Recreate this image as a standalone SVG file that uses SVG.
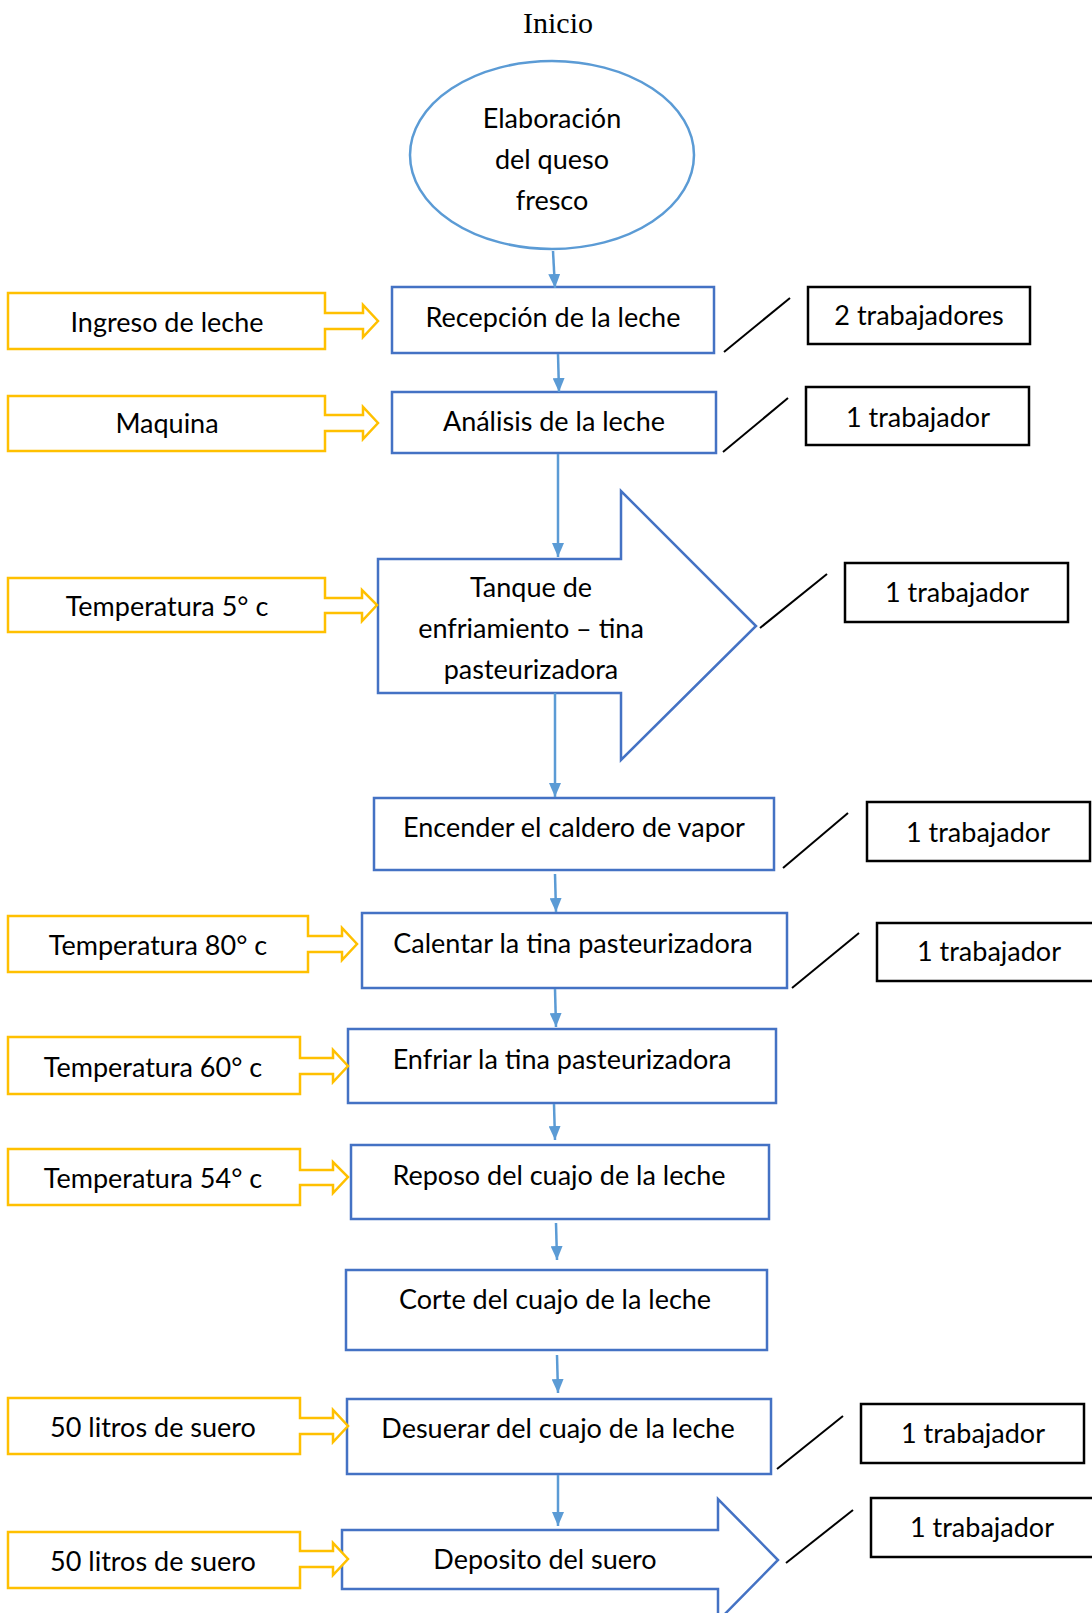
<svg xmlns="http://www.w3.org/2000/svg" width="1092" height="1613" viewBox="0 0 1092 1613">
  <style>
    .lbl { font-family: Lato, "Open Sans", "Liberation Sans", sans-serif; font-size: 27px; fill: #000; text-anchor: middle; }
    .title { font-family: "Liberation Serif", "Times New Roman", serif; font-size: 30px; fill: #000; text-anchor: middle; }
    .step { fill: #fff; stroke: #4472C4; stroke-width: 2.5; }
    .input { fill: #fff; stroke: #FFC000; stroke-width: 2.5; stroke-linejoin: miter; }
    .staff { fill: #fff; stroke: #000; stroke-width: 2.5; }
    .tick { stroke: #000; stroke-width: 2; fill: none; }
    .flow { stroke: #5B9BD5; stroke-width: 2.5; fill: none; marker-end: url(#head); }
  </style>
  <defs>
    <marker id="head" viewBox="0 0 14 12" refX="14" refY="6" markerUnits="userSpaceOnUse" markerWidth="14" markerHeight="12" orient="auto">
      <path d="M0,0 L14,6 L0,12 Z" fill="#5B9BD5"/>
    </marker>
  </defs>
  <rect width="1092" height="1613" fill="#fff"/>

  <text class="title" x="558" y="33">Inicio</text>

  <!-- start ellipse -->
  <g id="start">
    <ellipse cx="552" cy="155" rx="142" ry="94" fill="#fff" stroke="#5B9BD5" stroke-width="2.5"/>
    <text class="lbl" x="552" y="128">Elaboración</text>
    <text class="lbl" x="552" y="169">del queso</text>
    <text class="lbl" x="552" y="210">fresco</text>
  </g>

  <!-- process steps -->
  <g id="recepcion">
    <rect class="step" x="392" y="287" width="322" height="66"/>
    <text class="lbl" x="553" y="327">Recepción de la leche</text>
  </g>
  <g id="analisis">
    <rect class="step" x="392" y="392" width="324" height="61"/>
    <text class="lbl" x="554" y="431">Análisis de la leche</text>
  </g>
  <g id="tanque">
    <path class="step" d="M378,559 H621 V491 L756,626 L621,760 V693 H378 Z"/>
    <text class="lbl" x="531" y="597">Tanque de</text>
    <text class="lbl" x="531" y="638">enfriamiento – tina</text>
    <text class="lbl" x="531" y="679">pasteurizadora</text>
  </g>
  <g id="encender">
    <rect class="step" x="374" y="798" width="400" height="72"/>
    <text class="lbl" x="574" y="837">Encender el caldero de vapor</text>
  </g>
  <g id="calentar">
    <rect class="step" x="362" y="913" width="425" height="75"/>
    <text class="lbl" x="573" y="953">Calentar la tina pasteurizadora</text>
  </g>
  <g id="enfriar">
    <rect class="step" x="348" y="1029" width="428" height="74"/>
    <text class="lbl" x="562" y="1069">Enfriar la tina pasteurizadora</text>
  </g>
  <g id="reposo">
    <rect class="step" x="351" y="1145" width="418" height="74"/>
    <text class="lbl" x="559" y="1185">Reposo del cuajo de la leche</text>
  </g>
  <g id="corte">
    <rect class="step" x="346" y="1270" width="421" height="80"/>
    <text class="lbl" x="555" y="1309">Corte del cuajo de la leche</text>
  </g>
  <g id="desuerar">
    <rect class="step" x="347" y="1399" width="424" height="75"/>
    <text class="lbl" x="558" y="1438">Desuerar del cuajo de la leche</text>
  </g>
  <g id="deposito">
    <path class="step" d="M342,1530 H718 V1499 L778,1560 L718,1621 V1589 H342 Z"/>
    <text class="lbl" x="545" y="1569">Deposito del suero</text>
  </g>

  <!-- inputs (box with arrow) -->
  <g id="in-ingreso">
    <path class="input" d="M8,293 H325 V313 H363 V305 L378,321 L363,337 V329 H325 V349 H8 Z"/>
    <text class="lbl" x="167" y="332">Ingreso de leche</text>
  </g>
  <g id="in-maquina">
    <path class="input" d="M8,396 H325 V415 H363 V407 L378,423 L363,439 V431 H325 V451 H8 Z"/>
    <text class="lbl" x="167" y="433">Maquina</text>
  </g>
  <g id="in-temp5">
    <path class="input" d="M8,578 H325 V598 H362 V590 L377,605 L362,621 V613 H325 V632 H8 Z"/>
    <text class="lbl" x="167" y="616">Temperatura 5° c</text>
  </g>
  <g id="in-temp80">
    <path class="input" d="M8,916 H308 V936 H342 V928 L357,944 L342,960 V952 H308 V972 H8 Z"/>
    <text class="lbl" x="158" y="955">Temperatura 80° c</text>
  </g>
  <g id="in-temp60">
    <path class="input" d="M8,1037 H300 V1058 H333 V1050 L348,1066 L333,1082 V1074 H300 V1094 H8 Z"/>
    <text class="lbl" x="153" y="1077">Temperatura 60° c</text>
  </g>
  <g id="in-temp54">
    <path class="input" d="M8,1149 H300 V1170 H333 V1162 L348,1177 L333,1193 V1185 H300 V1205 H8 Z"/>
    <text class="lbl" x="153" y="1188">Temperatura 54° c</text>
  </g>
  <g id="in-suero1">
    <path class="input" d="M8,1398 H300 V1418 H333 V1410 L348,1426 L333,1442 V1434 H300 V1454 H8 Z"/>
    <text class="lbl" x="153" y="1437">50 litros de suero</text>
  </g>
  <g id="in-suero2">
    <path class="input" d="M8,1532 H300 V1551 H333 V1543 L348,1559 L333,1575 V1567 H300 V1588 H8 Z"/>
    <text class="lbl" x="153" y="1571">50 litros de suero</text>
  </g>

  <!-- staff boxes -->
  <g id="staff-recepcion">
    <rect class="staff" x="808" y="287" width="222" height="57"/>
    <text class="lbl" x="919" y="325">2 trabajadores</text>
  </g>
  <g id="staff-analisis">
    <rect class="staff" x="806" y="387" width="223" height="58"/>
    <text class="lbl" x="918" y="427">1 trabajador</text>
  </g>
  <g id="staff-tanque">
    <rect class="staff" x="845" y="563" width="223" height="59"/>
    <text class="lbl" x="957" y="602">1 trabajador</text>
  </g>
  <g id="staff-encender">
    <rect class="staff" x="867" y="802" width="223" height="59"/>
    <text class="lbl" x="978" y="842">1 trabajador</text>
  </g>
  <g id="staff-calentar">
    <rect class="staff" x="877" y="923" width="225" height="58"/>
    <text class="lbl" x="989" y="961">1 trabajador</text>
  </g>
  <g id="staff-desuerar">
    <rect class="staff" x="861" y="1404" width="223" height="59"/>
    <text class="lbl" x="973" y="1443">1 trabajador</text>
  </g>
  <g id="staff-deposito">
    <rect class="staff" x="871" y="1498" width="230" height="59"/>
    <text class="lbl" x="982" y="1537">1 trabajador</text>
  </g>

  <!-- connectors -->
  <g id="connectors">
    <line class="flow" x1="553" y1="251" x2="555" y2="288"/>
    <line class="flow" x1="558" y1="354" x2="559" y2="392"/>
    <line class="flow" x1="558" y1="454" x2="558" y2="557"/>
    <line class="flow" x1="555" y1="693" x2="555" y2="797"/>
    <line class="flow" x1="555" y1="874" x2="556" y2="912"/>
    <line class="flow" x1="555" y1="989" x2="556" y2="1027"/>
    <line class="flow" x1="554" y1="1104" x2="555" y2="1140"/>
    <line class="flow" x1="556" y1="1223" x2="557" y2="1260"/>
    <line class="flow" x1="557" y1="1355" x2="558" y2="1393"/>
    <line class="flow" x1="558" y1="1475" x2="558" y2="1526"/>

    <line class="tick" x1="724" y1="352" x2="790" y2="298"/>
    <line class="tick" x1="723" y1="452" x2="788" y2="398"/>
    <line class="tick" x1="760" y1="628" x2="827" y2="574"/>
    <line class="tick" x1="783" y1="868" x2="848" y2="813"/>
    <line class="tick" x1="792" y1="988" x2="859" y2="933"/>
    <line class="tick" x1="777" y1="1469" x2="843" y2="1416"/>
    <line class="tick" x1="786" y1="1563" x2="853" y2="1510"/>
  </g>
</svg>
